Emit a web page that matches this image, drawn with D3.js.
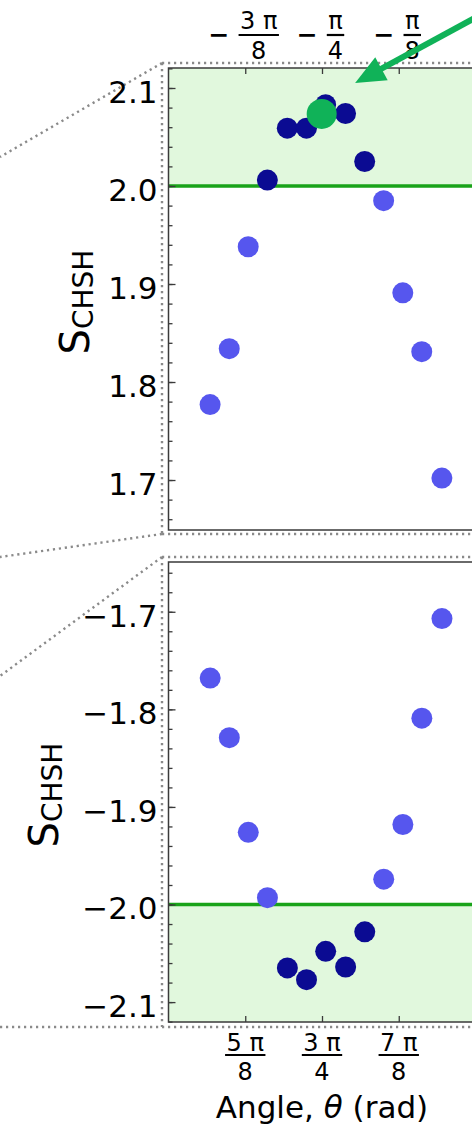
<!DOCTYPE html>
<html>
<head>
<meta charset="utf-8">
<script src="https://cdn.jsdelivr.net/npm/d3@7/dist/d3.min.js"></script>
<style>
  html, body { margin: 0; padding: 0; background: #fff; }
  svg { display: block; font-family: "DejaVu Sans", sans-serif; }
</style>
</head>
<body>
<svg id="chart" width="472" height="1140"></svg>
<script>
// ── Data ─────────────────────────────────────────────────────

// upper panel: θ in rad, S_CHSH
const thetaTop = [-1.358, -1.260, -1.163, -1.065, -0.963, -0.865, -0.767,
                  -0.665, -0.567, -0.470, -0.372, -0.275, -0.172];
const sTop     = [1.777, 1.834, 1.938, 2.006, 2.059, 2.059, 2.083,
                  2.074, 2.025, 1.985, 1.891, 1.831, 1.702];

// lower panel
const thetaBot = [1.784, 1.882, 1.979, 2.077, 2.179, 2.277, 2.375,
                  2.477, 2.575, 2.672, 2.770, 2.867, 2.970];
const sBot     = [-1.768, -1.829, -1.926, -1.993, -2.065, -2.077, -2.048,
                  -2.064, -2.028, -1.974, -1.918, -1.809, -1.707];

// highlighted measurement + arrow pointing at it
const bestPoint = { theta: -0.787, s: 2.0735 };
const arrowFrom = [0.02, 2.174];
const arrowTo   = [-0.616, 2.105];

const classicalBound = 2.0;

// tick values / labels
const yTicksTop = [1.7, 1.8, 1.9, 2.0, 2.1];
const yTicksBot = [-2.1, -2.0, -1.9, -1.8, -1.7];
const xTicksTop = [-3 * Math.PI / 8, -Math.PI / 4, -Math.PI / 8];
const xLabelsTop = [
  { sign: '−', num: '3 π', den: '8' },
  { sign: '−', num: 'π',   den: '4' },
  { sign: '−', num: 'π',   den: '8' },
];
const xTicksBot = [5 * Math.PI / 8, 3 * Math.PI / 4, 7 * Math.PI / 8];
const xLabelsBot = [
  { num: '5 π', den: '8' },
  { num: '3 π', den: '4' },
  { num: '7 π', den: '8' },
];

(function () {
  'use strict';

  const C = {
    dark:  '#0b0b92',
    light: '#5656ee',
    best:  '#10b258',
    line:  '#19a319',
    shade: '#e1f8dd',
    frame: '#3a3a3a',
    dots:  '#8a8a8a',
  };

  const FRAME_L = 168.5, FRAME_R = 475.5;
  const TOP_Y0 = 68,  TOP_Y1 = 530;
  const BOT_Y0 = 562, BOT_Y1 = 1022;
  const R = 10.5;

  const svg = d3.select('#chart');

  // ── Zoom guide lines (dotted) ─────────────────────────────
  const guides = [
    [[162, 63], [472, 63]], [[162, 63], [162, 534]], [[162, 534], [472, 534]],
    [[162, 63], [0, 157]],  [[162, 534], [0, 557]],
    [[162, 557], [472, 557]], [[162, 557], [162, 1027]], [[0, 1027], [472, 1027]],
    [[162, 557], [0, 676]],
  ];
  svg.append('g')
    .selectAll('line')
    .data(guides)
    .join('line')
    .attr('x1', d => d[0][0]).attr('y1', d => d[0][1])
    .attr('x2', d => d[1][0]).attr('y2', d => d[1][1])
    .attr('stroke', C.dots)
    .attr('stroke-width', 2.4)
    .attr('stroke-dasharray', '2.2,3.8');

  // ── Panel renderer ────────────────────────────────────────
  function panel(opts) {
    const x = d3.scaleLinear().domain(opts.xDomain).range([FRAME_L, FRAME_R]);
    const y = d3.scaleLinear().domain(opts.yDomain).range([opts.y1, opts.y0]);
    const g = svg.append('g');

    // white plot background + green region beyond classical bound
    g.append('rect')
      .attr('x', FRAME_L).attr('y', opts.y0)
      .attr('width', FRAME_R - FRAME_L).attr('height', opts.y1 - opts.y0)
      .attr('fill', '#fff');
    const yb = y(opts.bound);
    const yEdge = opts.shadeUp ? opts.y0 : opts.y1;
    g.append('rect')
      .attr('x', FRAME_L).attr('y', Math.min(yb, yEdge))
      .attr('width', FRAME_R - FRAME_L).attr('height', Math.abs(yEdge - yb))
      .attr('fill', C.shade);

    g.append('line')
      .attr('x1', FRAME_L).attr('x2', FRAME_R)
      .attr('y1', yb).attr('y2', yb)
      .attr('stroke', C.line).attr('stroke-width', 3.5);

    // points
    g.append('g')
      .selectAll('circle')
      .data(opts.theta.map((t, i) => ({ t, s: opts.s[i] })))
      .join('circle')
      .attr('cx', d => x(d.t))
      .attr('cy', d => y(d.s))
      .attr('r', R)
      .attr('fill', d => Math.abs(d.s) > Math.abs(opts.bound) ? C.dark : C.light);

    // frame
    g.append('rect')
      .attr('x', FRAME_L).attr('y', opts.y0)
      .attr('width', FRAME_R - FRAME_L).attr('height', opts.y1 - opts.y0)
      .attr('fill', 'none').attr('stroke', C.frame).attr('stroke-width', 1.5);

    // y axis: major + minor ticks, pointing inward
    const yMinor = d3.range(Math.ceil(opts.yDomain[0] * 50), Math.floor(opts.yDomain[1] * 50) + 1)
      .map(k => k / 50);
    g.append('g')
      .attr('transform', `translate(${FRAME_L},0)`)
      .call(d3.axisLeft(y).tickValues(yMinor).tickSize(-4).tickFormat(''))
      .call(a => a.select('.domain').remove())
      .call(a => a.selectAll('line').attr('stroke', C.frame).attr('stroke-width', 1.3));
    g.append('g')
      .attr('transform', `translate(${FRAME_L},0)`)
      .call(d3.axisLeft(y).tickValues(opts.yTicks).tickSize(-7).tickPadding(11)
        .tickFormat(d3.format('.1f')))
      .call(a => a.select('.domain').remove())
      .call(a => a.selectAll('line').attr('stroke', C.frame).attr('stroke-width', 1.3))
      .call(a => a.selectAll('text')
        .attr('dy', '0.46em')
        .attr('fill', '#000')
        .style('font-size', '31px')
        .style('font-family', '"DejaVu Sans", sans-serif'));

    // x ticks
    const xAxis = opts.xTop ? d3.axisTop(x) : d3.axisBottom(x);
    g.append('g')
      .attr('transform', `translate(0,${opts.xTop ? opts.y0 : opts.y1})`)
      .call(xAxis.tickValues(opts.xTicks).tickSize(-6).tickFormat(''))
      .call(a => a.select('.domain').remove())
      .call(a => a.selectAll('line').attr('stroke', C.frame).attr('stroke-width', 1.3));

    // fraction tick labels
    opts.xTicks.forEach((t, i) => {
      const lab = opts.xLabels[i];
      const lg = g.append('g');
      const num = lg.append('text')
        .attr('y', opts.numY)
        .attr('text-anchor', 'middle')
        .style('font-size', '24px')
        .text(lab.num);
      const w = num.node().getComputedTextLength() + 3;
      const minusW = lab.sign ? 15 : 0, gap = lab.sign ? 12 : 0;
      const start = x(t) - (minusW + gap + w) / 2;
      const fx = start + minusW + gap + w / 2;
      num.attr('x', fx);
      lg.append('line')
        .attr('x1', fx - w / 2).attr('x2', fx + w / 2)
        .attr('y1', opts.barY).attr('y2', opts.barY)
        .attr('stroke', '#000').attr('stroke-width', 2.2);
      lg.append('text')
        .attr('x', fx).attr('y', opts.denY)
        .attr('text-anchor', 'middle')
        .style('font-size', '24px')
        .text(lab.den);
      if (lab.sign) {
        lg.append('text')
          .attr('x', start + minusW / 2).attr('y', opts.barY + 8)
          .attr('text-anchor', 'middle')
          .style('font-size', '25px')
          .style('font-weight', 'bold')
          .text(lab.sign);
      }
    });

    // y axis title  S_CHSH
    const yt = g.append('text')
      .attr('transform', `translate(${opts.titleX},${opts.titleY}) rotate(-90)`)
      .attr('text-anchor', 'middle');
    yt.append('tspan').style('font-size', '40px').text('S');
    yt.append('tspan').style('font-size', '28px').attr('dy', 4).text('CHSH');

    return { x, y, g };
  }

  // ── Upper panel ───────────────────────────────────────────
  const top = panel({
    xDomain: [-Math.PI / 2, 0],
    yDomain: [1.649, 2.1204],
    y0: TOP_Y0, y1: TOP_Y1,
    theta: thetaTop, s: sTop,
    bound: classicalBound, shadeUp: true,
    yTicks: yTicksTop,
    xTicks: xTicksTop, xLabels: xLabelsTop, xTop: true,
    numY: 29, barY: 35, denY: 59,
    titleX: 89, titleY: 302,
  });

  // best point
  top.g.append('circle')
    .attr('cx', top.x(bestPoint.theta))
    .attr('cy', top.y(bestPoint.s))
    .attr('r', 15)
    .attr('fill', C.best);

  // arrow
  const p0 = [top.x(arrowFrom[0]), top.y(arrowFrom[1])];
  const p1 = [top.x(arrowTo[0]), top.y(arrowTo[1])];
  const len = Math.hypot(p1[0] - p0[0], p1[1] - p0[1]);
  const ux = (p1[0] - p0[0]) / len, uy = (p1[1] - p0[1]) / len;
  const HL = 30, HW = 13;
  const bx = p1[0] - ux * HL, by = p1[1] - uy * HL;
  svg.append('line')
    .attr('x1', p0[0]).attr('y1', p0[1])
    .attr('x2', bx + ux * 2).attr('y2', by + uy * 2)
    .attr('stroke', C.best).attr('stroke-width', 6);
  svg.append('path')
    .attr('d', `M${p1[0]},${p1[1]}L${bx - uy * HW},${by + ux * HW}L${bx + uy * HW},${by - ux * HW}Z`)
    .attr('fill', C.best);

  // ── Lower panel ───────────────────────────────────────────
  panel({
    xDomain: [Math.PI / 2, Math.PI],
    yDomain: [-2.1204, -1.649],
    y0: BOT_Y0, y1: BOT_Y1,
    theta: thetaBot, s: sBot,
    bound: -classicalBound, shadeUp: false,
    yTicks: yTicksBot,
    xTicks: xTicksBot, xLabels: xLabelsBot, xTop: false,
    numY: 1051, barY: 1055, denY: 1080,
    titleX: 58, titleY: 795,
  });

  // x axis title
  const xt = svg.append('text')
    .attr('x', 322).attr('y', 1118)
    .attr('text-anchor', 'middle')
    .style('font-size', '31px');
  xt.append('tspan').text('Angle, ');
  xt.append('tspan').style('font-style', 'italic').text('θ');
  xt.append('tspan').text(' (rad)');
})();
</script>
</body>
</html>
